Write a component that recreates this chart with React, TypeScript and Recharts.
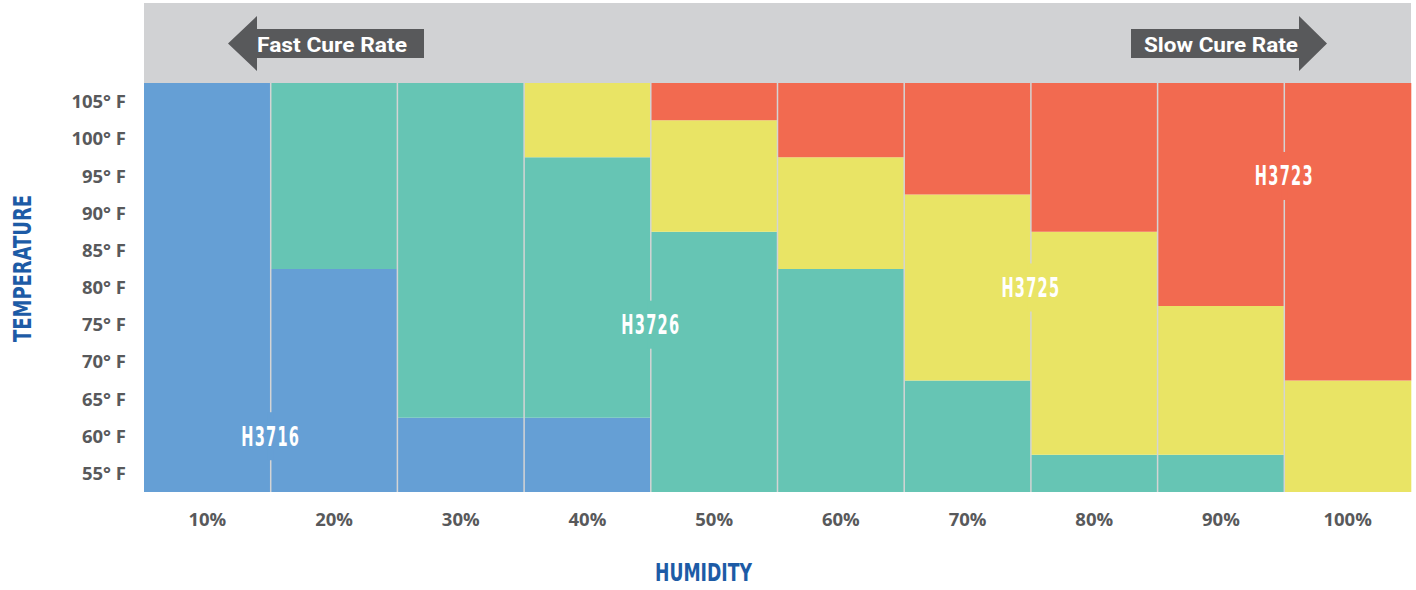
import { ComposedChart, Bar, XAxis, YAxis, ReferenceLine, ReferenceDot } from 'recharts';

// humidity columns
const humidity = ['10%', '20%', '30%', '40%', '50%', '60%', '70%', '80%', '90%', '100%'];
// temperature rows (°F)
const temperatures = [55, 60, 65, 70, 75, 80, 85, 90, 95, 100, 105];

// span (°F) of each product's band in every humidity column, stacked bottom to top
const h3716 = [55, 30, 10, 10, 0, 0, 0, 0, 0, 0];
const h3726 = [0, 25, 45, 35, 35, 30, 15, 5, 5, 0];
const h3725 = [0, 0, 0, 10, 15, 15, 25, 30, 20, 15];
const h3723 = [0, 0, 0, 0, 5, 10, 15, 20, 30, 40];

const products = [
  { key: 'h3716', name: 'H3716', color: '#659FD5' },
  { key: 'h3726', name: 'H3726', color: '#66C5B4' },
  { key: 'h3725', name: 'H3725', color: '#E9E465' },
  { key: 'h3723', name: 'H3723', color: '#F26A50' },
];

// product tags: column boundary index and temperature row
const tags = [
  { name: 'H3716', boundary: 1, temp: 60, color: '#659FD5' },
  { name: 'H3726', boundary: 4, temp: 75, color: '#66C5B4' },
  { name: 'H3725', boundary: 7, temp: 80, color: '#E9E465' },
  { name: 'H3723', boundary: 9, temp: 95, color: '#F26A50' },
];

const BASE = 52.5; // bottom edge of the 55° row
const data = humidity.map((h, i) => ({
  humidity: h,
  col: i,
  h3716: h3716[i],
  h3726: h3726[i],
  h3725: h3725[i],
  h3723: h3723[i],
}));

const boundaries = humidity.slice(1).map((_, i) => i + 1);

const condensed = "'Liberation Sans Narrow', 'DejaVu Sans Condensed', sans-serif";
const tickFont = { fill: '#58595B', fontSize: 18.5, fontWeight: 700, fontFamily: "'Open Sans', sans-serif" };
const BLUE = '#1D5BA6';
const DARK = '#58595B';

const ProductTag = (props: any) => {
  const { cx, cy, name, color } = props;
  if (cx == null || cy == null) return null;
  return (
    <g>
      <rect x={cx - 3} y={cy - 24} width={6} height={48} fill={color} />
      <text
        x={cx}
        y={cy + 9.5}
        textAnchor="middle"
        fill="#fff"
        fontFamily={condensed}
        fontWeight={700}
        fontSize={26}
        letterSpacing={2}
        textLength={59}
        lengthAdjust="spacingAndGlyphs"
      >
        {name}
      </text>
    </g>
  );
};

function Header() {
  return (
    <svg width={1416} height={90} style={{ position: 'absolute', left: 0, top: 0 }}>
      <rect x={144} y={3} width={1267} height={80} fill="#D1D2D4" />
      <polygon points="228,43.5 257,16 257,29 424,29 424,58 257,58 257,71" fill={DARK} />
      <text x={257} y={52} fill="#fff" fontFamily="Roboto, sans-serif" fontWeight={700} fontSize={21}
        textLength={150} lengthAdjust="spacingAndGlyphs">Fast Cure Rate</text>
      <polygon points="1131,29 1299,29 1299,16 1327,43.5 1299,71 1299,58 1131,58" fill={DARK} />
      <text x={1144} y={52} fill="#fff" fontFamily="Roboto, sans-serif" fontWeight={700} fontSize={21}
        textLength={154} lengthAdjust="spacingAndGlyphs">Slow Cure Rate</text>
    </svg>
  );
}

export default function App() {
  return (
    <div style={{ position: 'absolute', left: 0, top: 0, width: 1416, height: 590, background: '#fff' }}>
      <ComposedChart
        width={1416}
        height={590}
        data={data}
        margin={{ top: 83, right: 5, bottom: 0, left: 0 }}
        barCategoryGap={0}
        barGap={0}
      >
        <XAxis
          dataKey="humidity"
          axisLine={false}
          tickLine={false}
          tickMargin={15}
          height={98}
          interval={0}
          tick={tickFont}
          label={{
            content: () => (
              <text x={703.5} y={581} textAnchor="middle" fill={BLUE} fontFamily={condensed}
                fontWeight={700} fontSize={25} textLength={97} lengthAdjust="spacingAndGlyphs">HUMIDITY</text>
            ),
          }}
        />
        <XAxis xAxisId="pos" dataKey="col" type="number" domain={[0, 10]} allowDataOverflow hide />
        <YAxis
          type="number"
          domain={[0, 55]}
          ticks={temperatures.map((t) => t - BASE)}
          tickFormatter={(v: number) => `${v + BASE}° F`}
          interval={0}
          width={144}
          axisLine={false}
          tickLine={false}
          tickMargin={12}
          tick={tickFont}
          label={{
            content: () => (
              <text x={31} y={268.5} transform="rotate(-90 31 268.5)" textAnchor="middle" fill={BLUE}
                fontFamily={condensed} fontWeight={700} fontSize={25} textLength={147}
                lengthAdjust="spacingAndGlyphs">TEMPERATURE</text>
            ),
          }}
        />
        {products.map((p) => (
          <Bar key={p.key} dataKey={p.key} name={p.name} stackId="a" fill={p.color} isAnimationActive={false} />
        ))}
        {boundaries.map((b) => (
          <ReferenceLine key={b} x={b} xAxisId="pos" stroke="#D4D4D4" strokeWidth={1.5} />
        ))}
        {tags.map((t) => (
          <ReferenceDot
            key={t.name}
            x={t.boundary}
            y={t.temp - BASE}
            xAxisId="pos"
            r={0}
            shape={(p: any) => <ProductTag {...p} name={t.name} color={t.color} />}
          />
        ))}
      </ComposedChart>
      <Header />
    </div>
  );
}
